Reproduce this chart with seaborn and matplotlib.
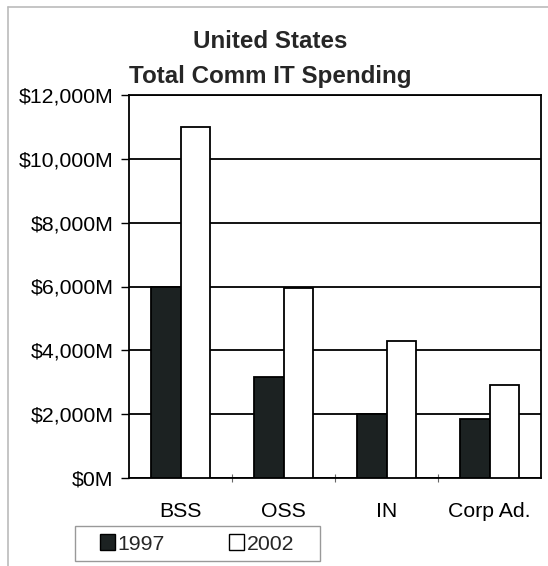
import matplotlib
matplotlib.use("Agg")
import matplotlib.pyplot as plt
from matplotlib.patches import Patch, Rectangle
from matplotlib.lines import Line2D
import seaborn as sns
import pandas as pd

# Spending by segment, in $M
categories = ["BSS", "OSS", "IN", "Corp Ad."]
years = ["1997", "2002"]
spend_1997 = [6000, 3170, 2000, 1850]
spend_2002 = [11000, 5950, 4300, 2900]
y_ticks = [0, 2000, 4000, 6000, 8000, 10000, 12000]
y_tick_labels = ["$0M", "$2,000M", "$4,000M", "$6,000M", "$8,000M", "$10,000M", "$12,000M"]
title_lines = ["United States", "Total Comm IT Spending"]

df = pd.DataFrame({
    "segment": categories * 2,
    "year": [years[0]] * len(categories) + [years[1]] * len(categories),
    "spend": spend_1997 + spend_2002,
})

sns.set_style("white")
plt.rcParams["font.family"] = ["Liberation Sans", "DejaVu Sans"]

W, H = 548, 566
fig = plt.figure(figsize=(W / 100, H / 100), dpi=100)
ax = fig.add_axes([129 / W, 1 - 478 / H, (541 - 129) / W, (478 - 95) / H])

palette = {"1997": "#1c2222", "2002": "white"}
sns.barplot(data=df, x="segment", y="spend", hue="year", order=categories,
            hue_order=years, palette=palette, width=0.58, edgecolor="black",
            linewidth=1.3, saturation=1, legend=False, ax=ax, zorder=3)

ax.set_ylim(0, 12000)
ax.set_xlim(-0.5, len(categories) - 0.5)
ax.set_yticks(y_ticks)
ax.set_yticklabels(y_tick_labels, fontsize=15.3)
ax.yaxis.grid(True, color="black", linewidth=1.3, zorder=0)
ax.set_axisbelow(True)
ax.set_xlabel("")
ax.set_ylabel("")
ax.tick_params(axis="y", left=True, length=6, width=1.0, pad=5, colors="black")
ax.tick_params(axis="x", bottom=False, labelsize=15.3, pad=14, colors="black")
ax.set_xticks(range(len(categories)))
ax.set_xticklabels(categories)
ax.set_xticks([i + 0.5 for i in range(len(categories) - 1)], minor=True)
ax.tick_params(axis="x", which="minor", bottom=True, direction="inout", length=6,
               width=0.8, color="#666666")
for s in ax.spines.values():
    s.set_visible(True)
    s.set_color("black")
    s.set_linewidth(1.3)

for i, line in enumerate(title_lines):
    fig.text(270 / W, 1 - (42 + 34 * i) / H, line, ha="center", va="center",
             fontsize=17.4, fontweight="bold")

# legend box below the axes
fig.add_artist(Rectangle((75 / W, 1 - 561 / H), 245 / W, 35 / H,
                         transform=fig.transFigure, facecolor="white",
                         edgecolor="#999999", linewidth=1.0))
handles = [Patch(facecolor=palette[y], edgecolor="black", linewidth=1.0) for y in years]
fig.legend(handles, years, loc="center left", ncol=2,
           bbox_to_anchor=(100 / W, 1 - 544 / H), fontsize=15.3, frameon=False,
           handlelength=0.72, handleheight=0.72, handletextpad=0.12,
           borderpad=0, borderaxespad=0, columnspacing=3.0)

# page border
fig.add_artist(Line2D([8 / W, 8 / W], [0, 1 - 7 / H], color="#bbbbbb", lw=1.2))
fig.add_artist(Line2D([8 / W, 1], [1 - 7 / H, 1 - 7 / H], color="#bbbbbb", lw=1.2))

fig.savefig("out.png", dpi=100)
